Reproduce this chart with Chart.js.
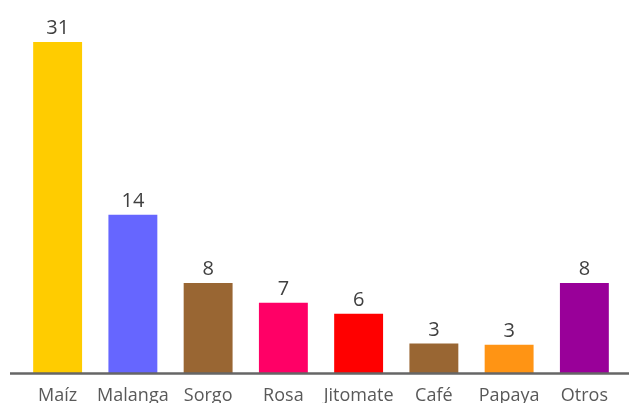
<!DOCTYPE html>
<html>
<head>
<meta charset="utf-8">
<script src="https://cdn.jsdelivr.net/npm/chart.js@4"></script>
<style>
  html, body { margin: 0; padding: 0; overflow: hidden; background: #fff; }
  #wrap { position: relative; width: 629px; height: 423px; }
</style>
</head>
<body>
<div id="wrap"><canvas id="cultivos"></canvas></div>
<script>
// data
const categories = ['Maíz', 'Malanga', 'Sorgo', 'Rosa', 'Jitomate', 'Café', 'Papaya', 'Otros'];
// bar heights as drawn (the printed numbers are rounded)
const barValues = [31, 14.85, 8.45, 6.6, 5.57, 2.79, 2.69, 8.45];
const valueLabels = ['31', '14', '8', '7', '6', '3', '3', '8'];
const barColors = ['#FFCC00', '#6666FF', '#996633', '#FF0066', '#FF0000', '#996633', '#FF9414', '#990099'];

const FONT = '"Open Sans", Lato, sans-serif';

// numbers above the bars + the long grey base line
const barLabels = {
    id: 'barLabels',
    afterDatasetsDraw(chart) {
        const ctx = chart.ctx;
        const area = chart.chartArea;
        ctx.save();
        ctx.strokeStyle = '#666666';
        ctx.lineWidth = 2.5;
        ctx.beginPath();
        ctx.moveTo(10, area.bottom);
        ctx.lineTo(629, area.bottom);
        ctx.stroke();

        ctx.fillStyle = '#404040';
        ctx.font = '20px ' + FONT;
        ctx.textAlign = 'center';
        ctx.textBaseline = 'alphabetic';
        chart.getDatasetMeta(0).data.forEach(function (bar, i) {
            ctx.fillText(valueLabels[i], bar.x, bar.y - 8);
        });
        ctx.restore();
    }
};

new Chart(document.getElementById('cultivos'), {
    type: 'bar',
    data: {
        labels: categories,
        datasets: [{
            data: barValues,
            backgroundColor: barColors,
            borderWidth: 0,
            barPercentage: 0.65,
            categoryPercentage: 1
        }]
    },
    options: {
        responsive: true,
        maintainAspectRatio: false,
        animation: false,
        layout: { padding: { left: 20, right: 7, top: 10, bottom: 4 } },
        plugins: { legend: { display: false }, tooltip: { enabled: false } },
        scales: {
            x: {
                grid: { display: false, drawTicks: false },
                border: { display: false },
                ticks: {
                    color: '#595959',
                    padding: 12,
                    autoSkip: false,
                    maxRotation: 0,
                    minRotation: 0,
                    font: { family: FONT, size: 18 }
                }
            },
            y: {
                display: false,
                min: 0,
                max: 34
            }
        }
    },
    plugins: [barLabels]
});
</script>
</body>
</html>
